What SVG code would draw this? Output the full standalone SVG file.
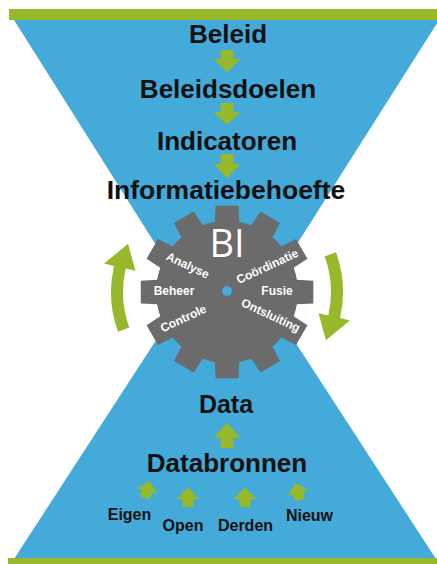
<svg xmlns="http://www.w3.org/2000/svg" xmlns:xlink="http://www.w3.org/1999/xlink" width="437" height="564" viewBox="0 0 437 564">
<style>
.bar{fill:#97b82a}
.blue{fill:#43aad9}
.gear{fill:#6b6b6b}
.arr{fill:#97b82a}
.t{font-family:"Liberation Sans",Arial,sans-serif;font-weight:bold;fill:#111;text-anchor:middle}
.g{font-family:"Liberation Sans",Arial,sans-serif;font-weight:bold;fill:#fff;text-anchor:middle;font-size:12px}
.bi{font-family:"Open Sans","Liberation Sans",sans-serif;font-weight:400;fill:#fff;text-anchor:middle;font-size:38px}
</style>
<defs>
<path id="dn" d="M-6.5,0 H6.5 V9 H13.5 L0,22 L-13.5,9 H-6.5 Z"/>
<path id="curve" d="M129.3,327.6 L118,331.7 A116,116 0 0 1 114,265.9 L104.2,263.6 L128.1,243.8 L135.4,270.8 L125.7,268.6 A104,104 0 0 0 129.3,327.6 Z"/>
</defs>
<rect width="437" height="564" fill="#fff"/>
<g id="background">
<polygon class="blue" points="14,20 439,20 226,356"/>
<polygon class="blue" points="14,559 436,559 225,234"/>
<rect class="bar" x="9" y="9" width="428" height="11"/>
<rect class="bar" x="8" y="558" width="429" height="6"/>
</g>
<g id="gear-bi">
<path class="gear" d="M296.9,279.7 L313.3,280.7 L313.3,303.4 L296.9,304.3 A71,71 0 0 1 293.7,316.3 L307.4,325.3 L296,345 L281.4,337.6 A71,71 0 0 1 272.6,346.4 L280,361 L260.3,372.4 L251.3,358.7 A71,71 0 0 1 239.3,361.9 L238.4,378.3 L215.7,378.3 L214.7,361.9 A71,71 0 0 1 202.7,358.7 L193.7,372.4 L174,361 L181.4,346.4 A71,71 0 0 1 172.6,337.6 L158,345 L146.6,325.3 L160.3,316.3 A71,71 0 0 1 157.1,304.3 L140.8,303.4 L140.8,280.7 L157.1,279.7 A71,71 0 0 1 160.3,267.7 L146.6,258.7 L158,239 L172.6,246.4 A71,71 0 0 1 181.4,237.6 L174,223 L193.7,211.6 L202.7,225.3 A71,71 0 0 1 214.7,222.1 L215.7,205.8 L238.4,205.8 L239.3,222.1 A71,71 0 0 1 251.3,225.3 L260.3,211.6 L280,223 L272.6,237.6 A71,71 0 0 1 281.4,246.4 L296,239 L307.4,258.7 L293.7,267.7 A71,71 0 0 1 296.9,279.7 Z"/>
<circle cx="227" cy="291" r="5" class="blue"/>
<text class="bi" x="227" y="257">BI</text>
<text class="g" transform="translate(186,269) rotate(25)">Analyse</text>
<text class="g" x="174" y="295">Beheer</text>
<text class="g" transform="translate(185,322) rotate(-25)">Controle</text>
<text class="g" transform="translate(269,270) rotate(-25)">Coördinatie</text>
<text class="g" x="277" y="295">Fusie</text>
<text class="g" transform="translate(269,319) rotate(25)">Ontsluiting</text>
</g>
<g id="cycle-arrows">
<use href="#curve" class="arr"/>
<use href="#curve" class="arr" transform="rotate(180 227 292)"/>
</g>
<g id="node-beleid"><text class="t" x="228" y="43" font-size="26">Beleid</text></g>
<g id="node-beleidsdoelen"><text class="t" x="228" y="98" font-size="26">Beleidsdoelen</text></g>
<g id="node-indicatoren"><text class="t" x="227" y="150" font-size="26">Indicatoren</text></g>
<g id="node-informatiebehoefte"><text class="t" x="226" y="199" font-size="26.5">Informatiebehoefte</text></g>
<g id="node-data"><text class="t" x="226" y="413" font-size="25">Data</text></g>
<g id="node-databronnen"><text class="t" x="227" y="472" font-size="26">Databronnen</text></g>
<g id="node-eigen"><text class="t" x="129.5" y="520" font-size="16">Eigen</text></g>
<g id="node-open"><text class="t" x="183" y="531" font-size="16">Open</text></g>
<g id="node-derden"><text class="t" x="245.5" y="531" font-size="16">Derden</text></g>
<g id="node-nieuw"><text class="t" x="309.5" y="521" font-size="16">Nieuw</text></g>
<g id="connectors" class="arr">
<use href="#dn" transform="translate(227,50)"/>
<use href="#dn" transform="translate(227,103)"/>
<use href="#dn" transform="translate(227,154) scale(1,1.1)"/>
<use href="#dn" transform="translate(227,448) rotate(180) scale(1,1.15)"/>
<use href="#dn" transform="translate(145,498) rotate(195) scale(0.8)"/>
<use href="#dn" transform="translate(188,507) rotate(180) scale(0.85,0.9)"/>
<use href="#dn" transform="translate(245,507) rotate(180) scale(0.85,0.9)"/>
<use href="#dn" transform="translate(300,500) rotate(165) scale(0.8)"/>
</g>
</svg>
